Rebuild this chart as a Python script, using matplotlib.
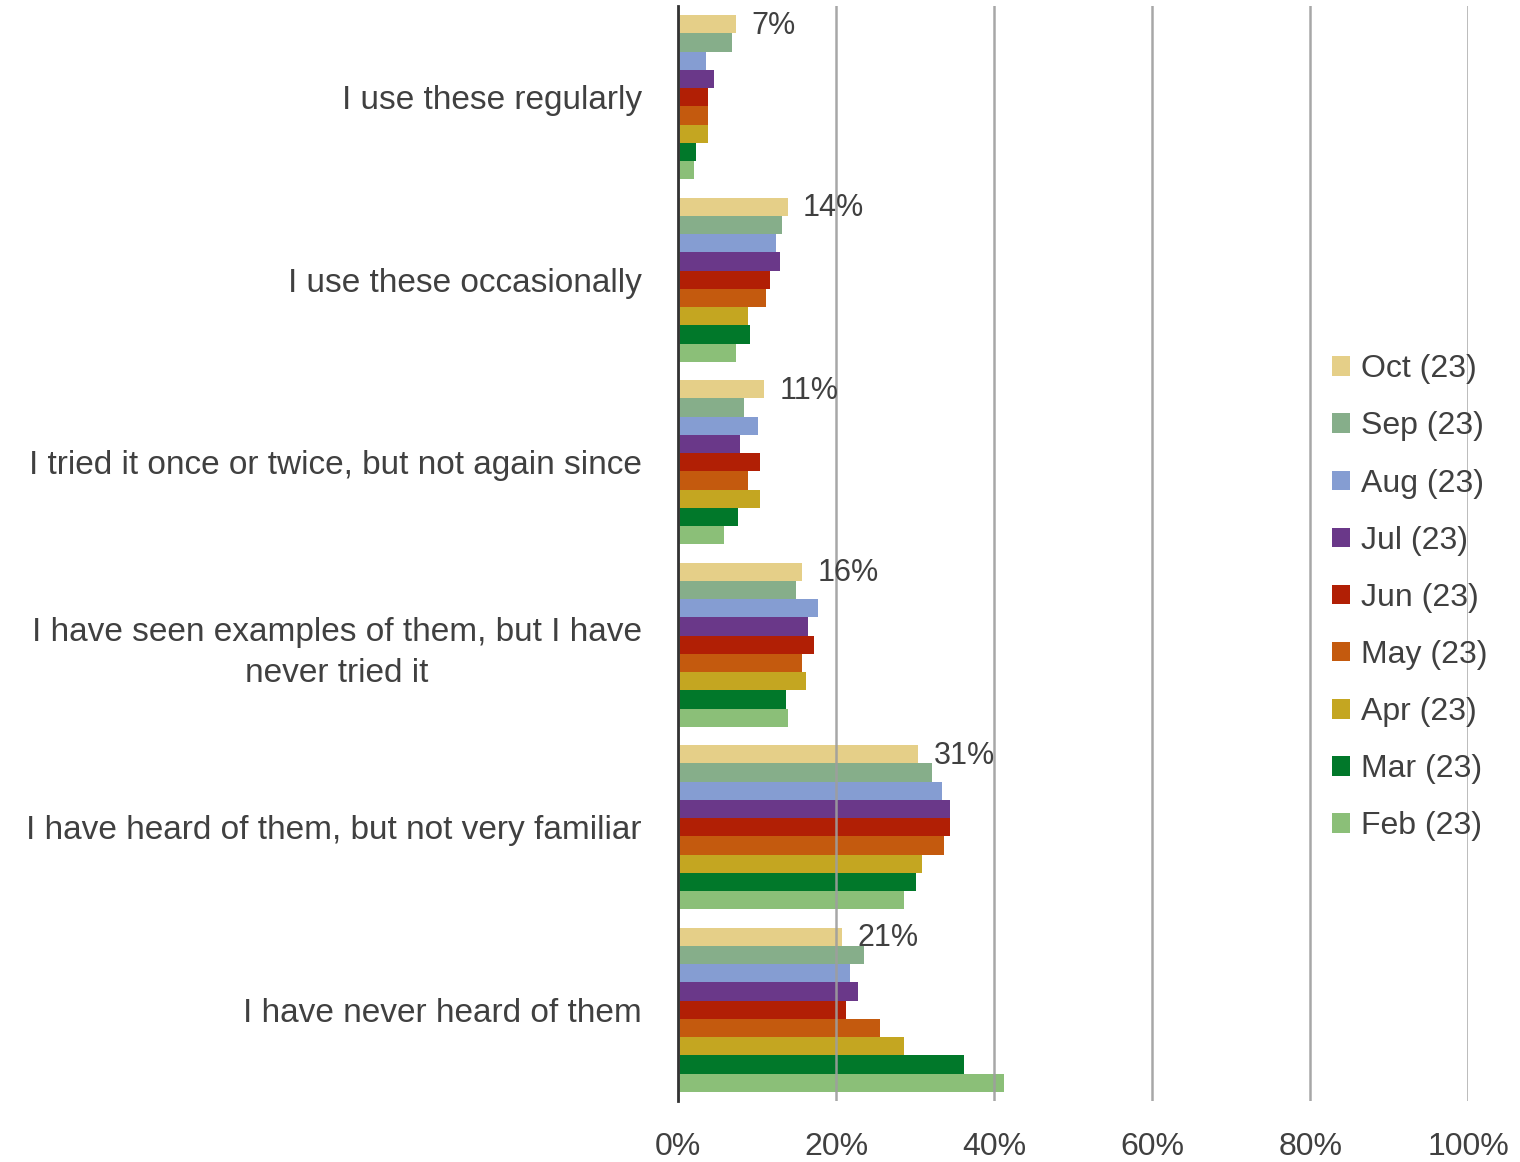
import matplotlib
matplotlib.use("Agg")
import matplotlib.pyplot as plt
import numpy as np

plt.rcParams["font.family"] = ["Liberation Sans", "DejaVu Sans"]

categories = [
    "I use these regularly",
    "I use these occasionally",
    "I tried it once or twice, but not again since",
    "I have seen examples of them, but I have\nnever tried it",
    "I have heard of them, but not very familiar",
    "I have never heard of them",
]
series_names = ["Oct (23)", "Sep (23)", "Aug (23)", "Jul (23)", "Jun (23)",
                "May (23)", "Apr (23)", "Mar (23)", "Feb (23)"]
colors = ["#E5CF88", "#86AE8A", "#859DD2", "#6A3889", "#B11F05",
          "#C45A0E", "#C4A621", "#01782A", "#8BBF78"]

# values in percent, one list per month, in category order
oct23 = [7.3, 13.9, 10.9, 15.7, 30.4, 20.8]
sep23 = [6.8, 13.2, 8.4, 14.9, 32.2, 23.5]
aug23 = [3.5, 12.4, 10.1, 17.7, 33.4, 21.8]
jul23 = [4.6, 12.9, 7.8, 16.5, 34.4, 22.8]
jun23 = [3.8, 11.6, 10.4, 17.2, 34.4, 21.3]
may23 = [3.8, 11.1, 8.9, 15.7, 33.7, 25.6]
apr23 = [3.8, 8.9, 10.4, 16.2, 30.9, 28.6]
mar23 = [2.3, 9.1, 7.6, 13.7, 30.1, 36.2]
feb23 = [2.0, 7.3, 5.8, 13.9, 28.6, 41.3]
series = [oct23, sep23, aug23, jul23, jun23, may23, apr23, mar23, feb23]
oct_labels = ["7%", "14%", "11%", "16%", "31%", "21%"]

text_color = "#404040"

fig = plt.figure(figsize=(15.2, 11.62), dpi=100)
ax = fig.add_axes([0.446, 0.0525, 0.52, 0.9423])

y = np.arange(len(categories))
h = 0.1
for i, (name, vals, c) in enumerate(zip(series_names, series, colors)):
    ax.barh(y - 0.4 + h * i, vals, height=h, color=c, label=name, zorder=2)

for yi, v, lab in zip(y, oct23, oct_labels):
    ax.annotate(lab, (v, yi - 0.4), xytext=(11, -1), textcoords="offset points",
                ha="left", va="center", fontsize=22, color=text_color)

ax.set_xlim(0, 100)
ax.set_ylim(5.5, -0.5)
ax.set_xticks(np.arange(0, 101, 20))
ax.set_xticklabels([f"{t}%" for t in range(0, 101, 20)])
ax.set_yticks(y)
ax.set_yticklabels(categories, ha="right", multialignment="center", linespacing=1.4)
ax.tick_params(axis="y", length=0, pad=26, labelsize=24, labelcolor=text_color)
ax.tick_params(axis="x", length=0, pad=22, labelsize=23, labelcolor=text_color)

ax.grid(axis="x", color="#9E9E9E", linewidth=1.8, alpha=0.9, zorder=3)
ax.set_axisbelow(False)
for s in ["top", "right", "bottom"]:
    ax.spines[s].set_visible(False)
ax.spines["left"].set_color("#333333")
ax.spines["left"].set_linewidth(2)
ax.spines["left"].set_zorder(4)

fig.legend(loc="center left", bbox_to_anchor=(0.866, 0.4855), frameon=False,
           fontsize=23, labelcolor=text_color, handlelength=0.56, handleheight=0.56,
           handletextpad=0.35, labelspacing=0.85, borderpad=0)

fig.savefig("out.png", dpi=100)
